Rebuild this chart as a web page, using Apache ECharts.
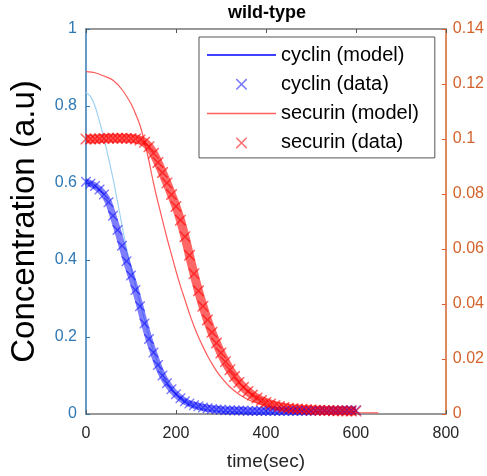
<!DOCTYPE html>
<html>
<head>
<meta charset="utf-8">
<script src="https://cdn.jsdelivr.net/npm/echarts@6/dist/echarts.min.js"></script>
<style>html,body{margin:0;padding:0;background:#fff}#c{width:487px;height:476px}</style>
</head>
<body>
<div id="c"></div>
<script>
// ---- data ----
const xTicks = [0, 200, 400, 600, 800];
const leftTicks = [0, 0.2, 0.4, 0.6, 0.8, 1];
const rightTicks = [0, 0.02, 0.04, 0.06, 0.08, 0.1, 0.12, 0.14];

const dataTime = [0,10,20,30,40,50,60,70,80,90,100,110,120,130,140,150,160,170,180,190,200,
  210,220,230,240,250,260,270,280,290,300,310,320,330,340,350,360,370,380,390,400,
  410,420,430,440,450,460,470,480,490,500,510,520,530,540,550,560,570,580,590,600];

const cyclinData = [0.603,0.598,0.592,0.583,0.570,0.550,0.515,0.478,0.437,0.397,0.360,
  0.322,0.280,0.235,0.195,0.160,0.127,0.100,0.080,0.064,0.051,
  0.041,0.033,0.027,0.023,0.020,0.017,0.015,0.013,0.012,0.011,
  0.010,0.010,0.009,0.009,0.009,0.008,0.008,0.008,0.008,0.008,
  0.008,0.008,0.008,0.008,0.008,0.008,0.008,0.008,0.008,0.008,
  0.009,0.009,0.009,0.009,0.009,0.009,0.010,0.010,0.010,0.010];

const securinData = [0.1000,0.1000,0.1000,0.1001,0.1002,0.1003,0.1003,0.1003,0.1003,0.1003,0.1002,
  0.1000,0.0996,0.0988,0.0972,0.0948,0.0915,0.0878,0.0840,0.0798,0.0755,
  0.0705,0.0645,0.0577,0.0510,0.0448,0.0392,0.0342,0.0297,0.0258,0.0222,
  0.0190,0.0161,0.0136,0.0115,0.0097,0.0082,0.0069,0.0058,0.0049,0.0042,
  0.0036,0.0031,0.0027,0.0024,0.0021,0.0019,0.0018,0.0017,0.0016,0.0015,
  0.0014,0.0014,0.0013,0.0013,0.0012,0.0012,0.0012,0.0011,0.0011,0.0011];

const cyclinModelTime = [0,10,20,30,40,50,60,70,80,90,100,110,120,130,140,150,160,170,180,190,200,220,240,260,300,350,400,500,600];
const cyclinModel = [0.835,0.825,0.800,0.760,0.715,0.665,0.612,0.552,0.490,0.430,0.380,0.335,0.290,0.245,0.203,0.165,0.131,0.103,0.081,0.064,0.050,0.031,0.020,0.013,0.007,0.004,0.003,0.002,0.002];

const securinModelTime = [0,20,40,60,80,100,110,120,130,140,150,160,170,180,190,200,210,220,230,240,250,260,270,280,290,300,320,340,360,380,400,450,500,550,600,650];
const securinModel = [0.1245,0.1241,0.1229,0.1214,0.1180,0.1128,0.1092,0.1050,0.0990,0.0920,0.0840,0.0770,0.0705,0.0640,0.0580,0.0520,0.0465,0.0415,0.0365,0.0320,0.0280,0.0245,0.0212,0.0183,0.0157,0.0135,0.0098,0.0072,0.0053,0.0040,0.0030,0.0016,0.0010,0.0007,0.0005,0.0004];

// ---- build ----
const pairs = (xs, ys) => xs.map((x, i) => [x, ys[i]]);
const X_PATH = 'path://M0,0 L2,0 L10,8 L18,0 L20,0 L20,2 L12,10 L20,18 L20,20 L18,20 L10,12 L2,20 L0,20 L0,18 L8,10 L0,2 Z';
const LINE_PATH = 'path://M0,0 L70,0 L70,1.5 L0,1.5 Z';
const LEFT_C = '#2f78b4';
const RIGHT_C = '#d4622a';
const FONT = 'Liberation Sans, Arial, sans-serif';

const chart = echarts.init(document.getElementById('c'), null, {renderer: 'canvas'});
chart.setOption({
  animation: false,
  backgroundColor: '#fff',
  title: {
    text: 'wild-type', left: 223, top: -1,
    textStyle: {fontFamily: FONT, fontSize: 18, fontWeight: 'bold', color: '#000'}
  },
  grid: {left: 83, right: 41, top: 29, bottom: 59, containLabel: false},
  legend: {
    orient: 'vertical', left: 199, top: 37,
    padding: [7, 16, 4, 8],
    itemWidth: 69, itemHeight: 11, itemGap: 7.3,
    borderColor: '#555', borderWidth: 1, backgroundColor: '#fff',
    textStyle: {fontFamily: FONT, fontSize: 20, lineHeight: 22, color: '#000'},
    data: [
      {name: 'cyclin (model)', icon: LINE_PATH, itemStyle: {color: '#0000ff', borderWidth: 0}},
      {name: 'cyclin (data)', icon: X_PATH, itemStyle: {color: '#5a5aff', borderWidth: 0}},
      {name: 'securin (model)', icon: LINE_PATH, itemStyle: {color: '#ff6060', borderWidth: 0}},
      {name: 'securin (data)', icon: X_PATH, itemStyle: {color: '#ff5050', borderWidth: 0}}
    ]
  },
  xAxis: [{
    type: 'value', min: 0, max: 800, interval: 200, position: 'bottom',
    name: 'time(sec)', nameLocation: 'middle', nameGap: 38,
    nameTextStyle: {fontFamily: FONT, fontSize: 19, color: '#262626'},
    axisLine: {show: true, onZero: false, lineStyle: {color: '#777', width: 1.5}},
    axisTick: {show: true, inside: true, length: 4, lineStyle: {color: '#555'}},
    axisLabel: {margin: 12, fontFamily: FONT, fontSize: 16, color: '#262626',
      formatter: v => xTicks.includes(v) ? String(v) : ''},
    splitLine: {show: false}
  }, {
    type: 'value', min: 0, max: 800, interval: 200, position: 'top',
    axisLine: {show: true, onZero: false, lineStyle: {color: '#777', width: 1.5}},
    axisTick: {show: true, inside: true, length: 4, lineStyle: {color: '#555'}},
    axisLabel: {show: false}, splitLine: {show: false}
  }],
  yAxis: [{
    type: 'value', min: 0, max: 1, interval: 0.2, position: 'left',
    name: 'Concentration (a.u)', nameLocation: 'middle', nameGap: 45, nameRotate: 90,
    nameTextStyle: {fontFamily: FONT, fontSize: 33, color: '#000'},
    axisLine: {show: true, onZero: false, lineStyle: {color: LEFT_C, width: 1.5}},
    axisTick: {show: true, inside: true, length: 4, lineStyle: {color: LEFT_C}},
    axisLabel: {margin: 9, fontFamily: FONT, fontSize: 16, color: LEFT_C,
      formatter: v => { const t = leftTicks.find(k => Math.abs(k - v) < 1e-9); return t === undefined ? '' : String(t); }},
    splitLine: {show: false}
  }, {
    type: 'value', min: 0, max: 0.14, interval: 0.02, position: 'right',
    axisLine: {show: true, onZero: false, lineStyle: {color: RIGHT_C, width: 1.5}},
    axisTick: {show: true, inside: true, length: 4, lineStyle: {color: RIGHT_C}},
    axisLabel: {margin: 7, fontFamily: FONT, fontSize: 16, color: RIGHT_C,
      formatter: v => { const t = rightTicks.find(k => Math.abs(k - v) < 1e-9); return t === undefined ? '' : String(t); }},
    splitLine: {show: false}
  }],
  series: [
    {
      name: 'cyclin (model)', type: 'line', xAxisIndex: 0, yAxisIndex: 0,
      data: pairs(cyclinModelTime, cyclinModel), smooth: 0.3, symbol: 'none',
      lineStyle: {color: '#9fd2f3', width: 1.2}, itemStyle: {color: '#9fd2f3'}, z: 2
    },
    {
      name: 'securin (model)', type: 'line', xAxisIndex: 0, yAxisIndex: 1,
      data: pairs(securinModelTime, securinModel), smooth: 0.3, symbol: 'none',
      lineStyle: {color: '#ff5a5a', width: 1.2}, itemStyle: {color: '#ff5a5a'}, z: 2
    },
    {
      name: 'cyclin band', type: 'line', xAxisIndex: 0, yAxisIndex: 0,
      data: pairs(dataTime, cyclinData), smooth: 0.3, symbol: 'none',
      lineStyle: {color: 'rgba(20,20,255,0.55)', width: 7}, z: 3, silent: true
    },
    {
      name: 'securin band', type: 'line', xAxisIndex: 0, yAxisIndex: 1,
      data: pairs(dataTime, securinData), smooth: 0.3, symbol: 'none',
      lineStyle: {color: 'rgba(255,20,20,0.65)', width: 9}, z: 3, silent: true
    },
    {
      name: 'cyclin (data)', type: 'scatter', xAxisIndex: 0, yAxisIndex: 0,
      data: pairs(dataTime, cyclinData), symbol: X_PATH, symbolSize: 10,
      itemStyle: {color: 'rgba(0,0,255,0.65)'}, z: 4
    },
    {
      name: 'securin (data)', type: 'scatter', xAxisIndex: 0, yAxisIndex: 1,
      data: pairs(dataTime, securinData), symbol: X_PATH, symbolSize: 11,
      itemStyle: {color: 'rgba(255,0,0,0.75)'}, z: 4
    }
  ]
});
</script>
</body>
</html>
